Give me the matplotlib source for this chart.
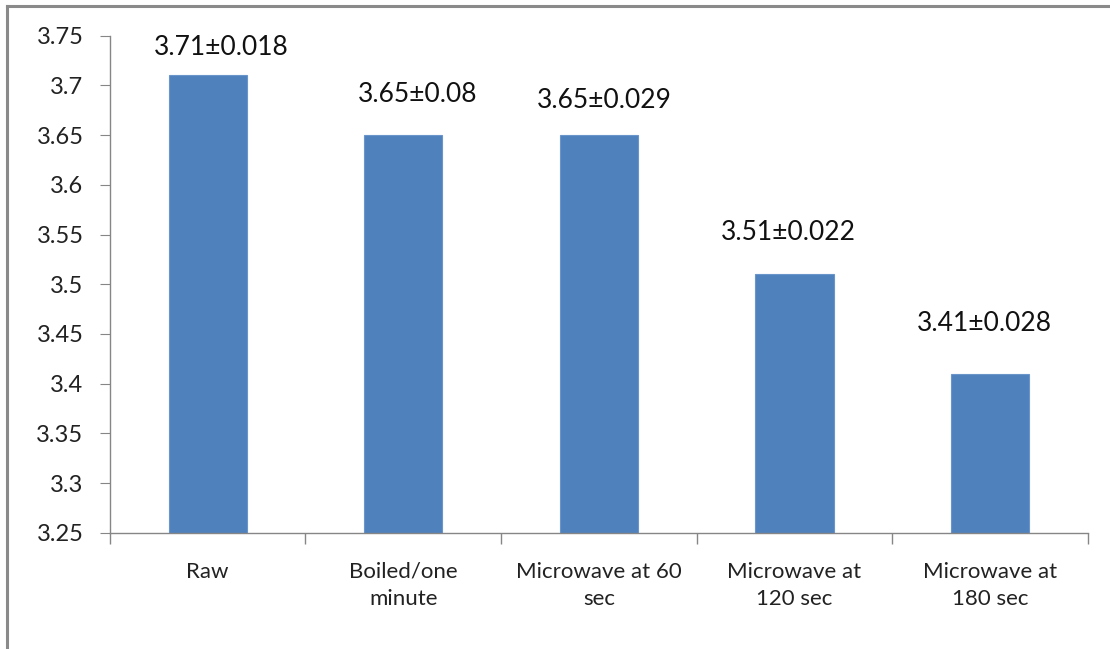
import matplotlib.pyplot as plt
from matplotlib.lines import Line2D

plt.rcParams['font.family'] = ['Lato', 'DejaVu Sans']

categories = ['Raw', 'Boiled/one\nminute', 'Microwave at 60\nsec', 'Microwave at\n120 sec', 'Microwave at\n180 sec']
means = [3.71, 3.65, 3.65, 3.51, 3.41]
errors = ['0.018', '0.08', '0.029', '0.022', '0.028']

# hand-placed label offsets (points) as in the original sheet
label_dx = [10, 10, 4, -4, -4]
label_dy = [20, 29, 25, 30, 36]

fig = plt.figure(figsize=(11.10, 6.49), dpi=100)
ax = fig.add_axes([0.099, 0.179, 0.881, 0.766])

x = range(len(categories))
bars = ax.bar(x, means, width=0.4, color='#4F81BD', edgecolor='#6A95CB', linewidth=0.8)

for i, (m, e) in enumerate(zip(means, errors)):
    ax.annotate(f'{m:.2f}\u00b1{e}', xy=(i, m), xytext=(label_dx[i], label_dy[i]),
                textcoords='offset points', ha='center', va='center', fontsize=19, color='#111111')

ax.set_ylim(3.25, 3.75)
ax.set_xlim(-0.5, len(categories) - 0.5)
ax.set_yticks([3.25 + 0.05 * k for k in range(11)])
ax.set_yticklabels(['3.25', '3.3', '3.35', '3.4', '3.45', '3.5', '3.55', '3.6', '3.65', '3.7', '3.75'])

ax.set_xticks(list(x))
ax.set_xticklabels(categories, fontsize=16, color='#222222', linespacing=1.45)
ax.tick_params(axis='x', length=0, pad=21)
ax.set_xticks([k - 0.5 for k in range(len(categories) + 1)], minor=True)
ax.tick_params(axis='x', which='minor', length=8, color='#868686', width=1)
ax.tick_params(axis='y', length=7, color='#868686', labelsize=17, labelcolor='#222222', pad=12)

for s in ['top', 'right']:
    ax.spines[s].set_visible(False)
for s in ['left', 'bottom']:
    ax.spines[s].set_color('#868686')
    ax.spines[s].set_linewidth(1)

# outer chart frame
fig.add_artist(Line2D([7 / 1110, 7 / 1110], [0, 1 - 6 / 649], color='#8A8A8A', lw=2.2))
fig.add_artist(Line2D([7 / 1110, 1], [1 - 6 / 649, 1 - 6 / 649], color='#8A8A8A', lw=2.2))

fig.savefig('out.png', dpi=100)
